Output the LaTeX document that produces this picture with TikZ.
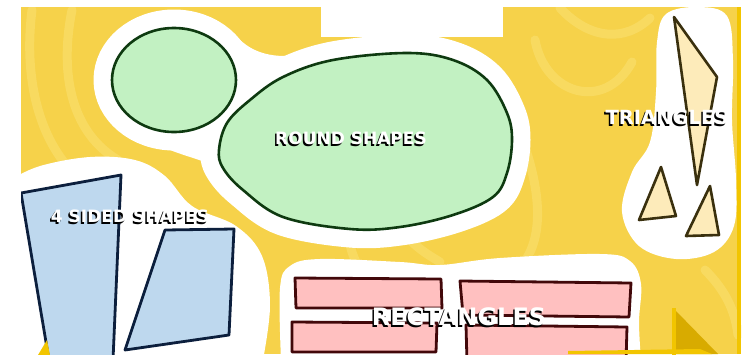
\documentclass[tikz,border=0pt]{standalone}
\usepackage{fontspec}
\newfontfamily\lblfont{DejaVu Sans}
\definecolor{bgyellow}{HTML}{F6D24A}
\definecolor{swirlyellow}{HTML}{F8DA60}
\definecolor{edgeyellow}{HTML}{F2C500}
\definecolor{darkgold}{HTML}{D8AB00}
\definecolor{greenfill}{HTML}{C2F1C2}
\definecolor{greenline}{HTML}{0E3A10}
\definecolor{bluefill}{HTML}{BED8EE}
\definecolor{blueline}{HTML}{0C1F3D}
\definecolor{pinkfill}{HTML}{FFC0C0}
\definecolor{pinkline}{HTML}{42080A}
\definecolor{trifill}{HTML}{FDEBBA}
\definecolor{triline}{HTML}{3A300E}
\newcommand{\shtext}[1]{\makebox[0pt][l]{\kern-1.5pt\raisebox{-1.9pt}{\color{black}#1}}\textcolor{white}{#1}}
\tikzset{
  swirl/.style={draw=swirlyellow, line width=9pt, line cap=round},
  greenshape/.style={fill=greenfill, draw=greenline, line width=2.6pt},
  blueshape/.style={fill=bluefill, draw=blueline, line width=2.8pt, line join=round},
  pinkshape/.style={fill=pinkfill, draw=pinkline, line width=2.8pt, line join=round},
  trishape/.style={fill=trifill, draw=triline, line width=2.6pt, line join=round},
  halo/.style={fill=white, draw=white, line width=37pt, line join=round},
  lbl/.style={inner sep=0pt}
}
\begin{document}
\begin{tikzpicture}[x=1pt, y=-1pt]
\useasboundingbox (0,0) rectangle (750,354);
\begin{scope}
\clip (21,7) rectangle (741,354);
\fill[bgyellow] (21,7) rectangle (741,354);
% background swirls
\draw[swirl] (32,10) .. controls (22,90) and (45,160) .. (95,190);
\draw[swirl] (72,10) .. controls (58,80) and (75,135) .. (118,160);
\draw[swirl] (535,40) .. controls (545,95) and (605,112) .. (632,62);
\draw[swirl] (560,8) .. controls (590,40) and (625,42) .. (650,18);
\draw[swirl] (526,150) .. controls (542,200) and (542,240) .. (522,265);
\draw[swirl] (350,244) .. controls (352,255) and (356,262) .. (360,270);
\draw[swirl] (410,240) .. controls (420,250) and (430,256) .. (440,262);
\draw[swirl] (705,270) .. controls (725,290) and (735,310) .. (738,335);
% white halo of round shapes
\path[halo] (174,80) ellipse [x radius=62, y radius=52];
\path[halo] plot[smooth cycle, tension=0.6] coordinates {(219,150) (227,123) (250,100) (283,77) (333,60) (407,53) (453,60) (487,80) (507,113) (512,140) (507,173) (493,197) (453,215) (400,227) (350,229) (283,217) (243,190) (223,168)};
\fill[white] (238,38) .. controls (248,48) and (262,56) .. (285,56) .. controls (300,56) and (312,52) .. (325,47) -- (320,110) -- (240,110) -- cycle;
\fill[white] (150,140) .. controls (165,150) and (185,155) .. (205,162) -- (215,130) -- (160,120) -- cycle;
% white halo of four sided shapes
\fill[white] plot[smooth, tension=0.6] coordinates {(10,180) (40,166) (90,157) (135,160) (165,176) (192,206) (236,226) (262,256) (270,305) (263,360)} -- (10,360) -- cycle;
% white halo of rectangles
\fill[white] plot[smooth, tension=0.6] coordinates {(281,360) (280,288) (290,266) (320,259) (400,262) (440,265) (500,258) (600,254) (630,261) (641,284) (639,322) (641,360)} -- cycle;
% white halo of triangles
\fill[white] plot[smooth cycle, tension=0.6] coordinates {(657,42) (666,14) (698,7) (727,16) (733,60) (732,120) (736,180) (734,226) (714,252) (676,259) (639,246) (622,212) (632,172) (650,142) (656,92)};
% round shapes
\path[greenshape] (174,80) ellipse [x radius=62, y radius=52];
\path[greenshape] plot[smooth cycle, tension=0.6] coordinates {(219,150) (227,123) (250,100) (283,77) (333,60) (407,53) (453,60) (487,80) (507,113) (512,140) (507,173) (493,197) (453,215) (400,227) (350,229) (283,217) (243,190) (223,168)};
% four sided shapes
\path[blueshape] (21,193) -- (121,175) -- (113,360) -- (49,360) -- cycle;
\path[blueshape] (165,230) -- (234,229) -- (229,335) -- (125,350) -- cycle;
% rectangles
\path[pinkshape] (295,278) -- (441,279) -- (442,308) -- (296,308) -- cycle;
\path[pinkshape] (460,281) -- (631,283) -- (629,317) -- (463,315) -- cycle;
\path[pinkshape] (292,322) -- (437,323) -- (436,352) -- (292,352) -- cycle;
\path[pinkshape] (466,325) -- (627,327) -- (626,362) -- (467,362) -- cycle;
% triangles
\path[trishape] (674,17) -- (717,77) -- (697,185) -- cycle;
\path[trishape] (661,167) -- (676,216) -- (639,220) -- cycle;
\path[trishape] (710,186) -- (719,235) -- (686,236) -- cycle;
% corner decorations
\fill[darkgold] (675,310) -- (718,354) -- (675,354) -- cycle;
\draw[edgeyellow, line width=4pt] (674,308) -- (674,356);
\fill[edgeyellow] (568,351) -- (700,349) -- (712,354) -- (568,354) -- cycle;
\fill[edgeyellow] (737,7) rectangle (741,354);
\fill[edgeyellow] (38,355) -- (47,340) -- (50,355) -- cycle;
\end{scope}
\fill[white] (321,0) rectangle (503,37);
% labels
\node[lbl, font=\lblfont\bfseries\fontsize{17}{18}\selectfont] (round) at (351,139) {\shtext{ROUND SHAPES}};
\node[lbl, font=\lblfont\bfseries\fontsize{17}{18}\selectfont] (four) at (130,217) {\shtext{4 SIDED SHAPES}};
\node[lbl, font=\lblfont\bfseries\fontsize{19.5}{20}\selectfont] (tri) at (667,118) {\shtext{TRIANGLES}};
\node[lbl, font=\lblfont\bfseries\fontsize{24}{25}\selectfont] (rect) at (459,318) {\shtext{RECTANGLES}};
\end{tikzpicture}
\end{document}
